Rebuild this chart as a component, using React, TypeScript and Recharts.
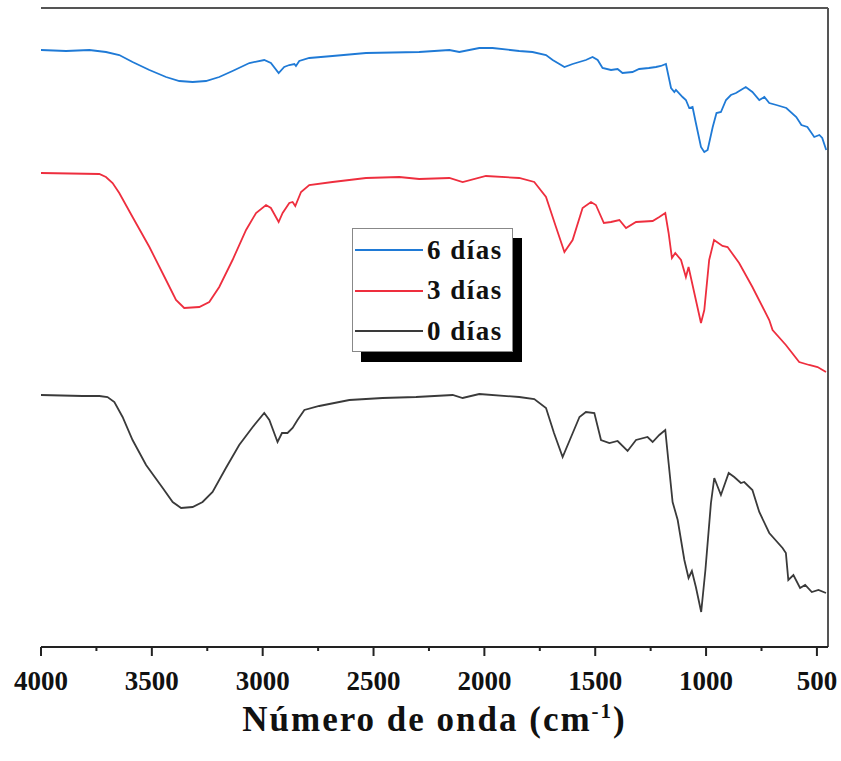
import { LineChart, Line, XAxis, YAxis, Legend, ReferenceLine } from "recharts"

// FTIR spectra, wavenumber (cm-1) vs transmittance (a.u., curves stacked)
const wn6 = [4000, 3887, 3782, 3707, 3647, 3587, 3511, 3436, 3376, 3316, 3256, 3196, 3136, 3060, 2993, 2963, 2928, 2903, 2880, 2857, 2850, 2835, 2790, 2685, 2534, 2294, 2158, 2113, 2023, 1963, 1843, 1783, 1722, 1692, 1654, 1639, 1602, 1542, 1512, 1489, 1467, 1429, 1399, 1377, 1332, 1302, 1258, 1226, 1204, 1181, 1158, 1143, 1136, 1106, 1091, 1076, 1061, 1046, 1023, 1008, 993, 970, 953, 933, 910, 888, 865, 843, 821, 791, 760, 737, 715, 683, 638, 593, 570, 543, 512, 489, 476, 458]
const t6 = [597, 596, 597, 595, 592, 585, 577, 570, 566, 565, 566, 570, 576, 584, 587, 584, 574, 580, 582, 583, 581, 586, 589, 591, 594, 595, 597, 595, 599, 599, 596, 595, 592, 587, 582, 580, 583, 587, 590, 587, 579, 577, 578, 574, 575, 578, 579, 580, 581, 583, 559, 555, 557, 550, 547, 539, 540, 524, 500, 495, 497, 520, 534, 535, 547, 552, 554, 557, 560, 555, 547, 550, 544, 542, 539, 530, 522, 520, 510, 512, 509, 497]

const wn3 = [4000, 3737, 3707, 3677, 3647, 3587, 3511, 3436, 3391, 3354, 3286, 3241, 3196, 3136, 3075, 3030, 2985, 2963, 2928, 2910, 2880, 2865, 2853, 2827, 2790, 2685, 2534, 2384, 2294, 2158, 2098, 1993, 1843, 1775, 1722, 1677, 1639, 1602, 1557, 1519, 1497, 1461, 1429, 1391, 1361, 1316, 1241, 1211, 1184, 1169, 1154, 1139, 1113, 1091, 1079, 1068, 1046, 1023, 1008, 986, 964, 926, 903, 851, 791, 715, 700, 640, 580, 535, 497, 459]
const t3 = [474, 473, 470, 464, 454, 430, 400, 367, 347, 339, 340, 345, 360, 387, 417, 434, 442, 439, 425, 434, 444, 445, 441, 455, 462, 465, 469, 470, 468, 469, 465, 471, 469, 465, 450, 420, 395, 407, 439, 445, 442, 424, 425, 427, 419, 425, 426, 430, 434, 414, 389, 394, 387, 370, 380, 369, 347, 324, 337, 387, 407, 401, 400, 384, 360, 327, 317, 302, 285, 282, 280, 275]

const wn0 = [4000, 3812, 3737, 3700, 3669, 3632, 3587, 3526, 3451, 3406, 3368, 3316, 3271, 3226, 3166, 3106, 3045, 2993, 2970, 2933, 2913, 2888, 2865, 2843, 2812, 2745, 2609, 2459, 2308, 2143, 2098, 2023, 1843, 1775, 1722, 1686, 1647, 1609, 1571, 1542, 1504, 1474, 1436, 1399, 1354, 1316, 1264, 1241, 1211, 1184, 1169, 1151, 1128, 1098, 1079, 1064, 1046, 1022, 1003, 978, 963, 933, 898, 873, 843, 828, 791, 760, 715, 655, 640, 629, 606, 576, 553, 523, 493, 459]
const t0 = [252, 251, 251, 250, 245, 230, 207, 182, 159, 145, 139, 140, 145, 155, 179, 202, 220, 234, 227, 205, 214, 214, 219, 227, 237, 241, 247, 249, 250, 252, 249, 253, 250, 248, 239, 214, 190, 210, 230, 235, 234, 207, 204, 206, 196, 207, 210, 205, 212, 217, 184, 145, 127, 87, 69, 76, 60, 35, 77, 144, 169, 152, 174, 170, 164, 165, 157, 135, 114, 99, 94, 67, 72, 59, 62, 55, 57, 54]

const seriesNames = ["6 días", "3 días", "0 días"]
const seriesColors = ["#1f7ad6", "#ee2e3e", "#3a3a3a"]

const xTicks = [4000, 3750, 3500, 3250, 3000, 2750, 2500, 2250, 2000, 1750, 1500, 1250, 1000, 750, 500]

const toPoints = (wn: number[], t: number[]) => wn.map((w, i) => ({ wn: w, t: t[i] }))

const series = [
  { name: seriesNames[0], color: seriesColors[0], data: toPoints(wn6, t6) },
  { name: seriesNames[1], color: seriesColors[1], data: toPoints(wn3, t3) },
  { name: seriesNames[2], color: seriesColors[2], data: toPoints(wn0, t0) },
]

const serif = "'Liberation Serif', 'Times New Roman', serif"

function WaveTick({ x, y, payload }: any) {
  const major = payload.value % 500 === 0
  return (
    <g>
      <line x1={x} x2={x} y1={y} y2={y + (major ? 9 : 4)} stroke="#222" strokeWidth={2} />
      {major && (
        <text x={x} y={y + 43} textAnchor="middle" fontFamily={serif} fontWeight="bold" fontSize={27} fill="#111">
          {payload.value}
        </text>
      )}
    </g>
  )
}

function AxisTitle({ viewBox }: any) {
  const cx = viewBox.x + viewBox.width / 2
  return (
    <text x={cx} y={731} textAnchor="middle" fontFamily={serif} fontWeight="bold" fontSize={35} letterSpacing={2} fill="#111">
      Número de onda (cm
      <tspan dy={-13} fontSize={21}>-1</tspan>
      <tspan dy={13}>)</tspan>
    </text>
  )
}

// legend drawn from the series list so the order stays 6, 3, 0
function LegendBox() {
  return (
    <div
      style={{
        position: "relative",
        width: 161,
        height: 124,
        boxSizing: "border-box",
        border: "1px solid #888",
        background: "#fff",
        boxShadow: "9px 10px 0 #000",
        fontFamily: serif,
      }}
    >
      {series.map((s, i) => (
        <div
          key={s.name}
          style={{ position: "absolute", left: 2, top: 4 + i * 40.5, height: 34, display: "flex", alignItems: "center" }}
        >
          <div style={{ width: 68, height: 2, background: s.color }} />
          <span style={{ marginLeft: 4, fontSize: 27, fontWeight: "bold", color: "#111", letterSpacing: 1.5 }}>{s.name}</span>
        </div>
      ))}
    </div>
  )
}

export default function App() {
  return (
    <div style={{ position: "absolute", left: 0, top: 0, width: 841, height: 761, background: "#fff" }}>
      <LineChart width={841} height={761} margin={{ top: 8, right: 13, bottom: 0, left: 41 }}>
        <XAxis
          dataKey="wn"
          type="number"
          domain={[450, 4000]}
          reversed
          allowDataOverflow
          ticks={xTicks}
          interval={0}
          height={114}
          tickSize={0}
          tickMargin={0}
          tickLine={false}
          tick={<WaveTick />}
          axisLine={{ stroke: "#222", strokeWidth: 2 }}
          label={<AxisTitle />}
        />
        <YAxis type="number" domain={[0, 639]} width={0} tick={false} tickLine={false} axisLine={{ stroke: "#222", strokeWidth: 2 }} />
        <ReferenceLine y={639} stroke="#555" strokeWidth={2} />
        <ReferenceLine x={450} stroke="#555" strokeWidth={2} />
        <Legend
          layout="horizontal"
          verticalAlign="middle"
          align="center"
          content={<LegendBox />}
          wrapperStyle={{ left: 352, top: 228, width: 161 }}
        />
        {series.map((s) => (
          <Line
            key={s.name}
            name={s.name}
            data={s.data}
            dataKey="t"
            type="linear"
            stroke={s.color}
            strokeWidth={1.8}
            dot={false}
            isAnimationActive={false}
          />
        ))}
      </LineChart>
    </div>
  )
}
